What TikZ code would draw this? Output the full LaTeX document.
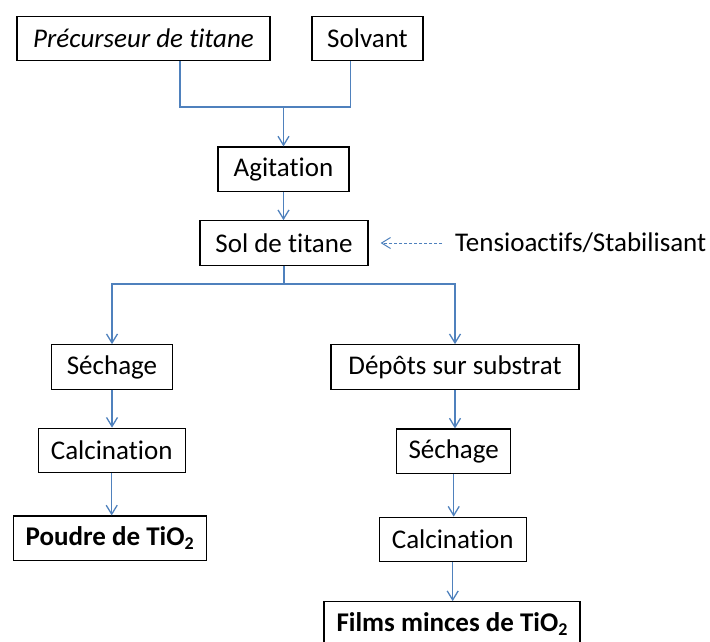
\documentclass[tikz,border=0pt]{standalone}
\usepackage{fontspec}
\setmainfont{Carlito}[RawFeature={-liga;-clig;-calt;-dlig}]
\usepackage{tikz}
\usetikzlibrary{arrows.meta}
\definecolor{flowblue}{RGB}{79,129,189}
\newcommand{\indice}[1]{\raisebox{-0.3ex}{\fontsize{18}{20}\selectfont #1}}

\begin{document}
\begin{tikzpicture}[x=1pt,y=-1pt]
	\tikzstyle{every node}=[font=\fontsize{27}{32}\selectfont]
	\tikzstyle{etape}=[draw=black, line width=1.2pt, fill=white, minimum height=44.5pt, inner xsep=2pt, inner ysep=0pt]
	\tikzstyle{trait}=[draw=flowblue, line width=1.3pt]
	\tikzstyle{fleche}=[trait, -{Straight Barb[length=9pt,width=11pt]}]
	
	\useasboundingbox (0,0) rectangle (710,641);
	
	% entrees
	\node[etape, minimum width=253pt, font=\fontsize{27}{32}\selectfont\itshape] (prec) at (143.5,38.5) {Précurseur de titane};
	\node[etape, minimum width=111pt] (solv) at (367.5,38.5) {Solvant};
	\node[etape, minimum width=131pt] (agit) at (283.5,169.3) {Agitation};
	\node[etape, minimum width=168pt] (sol) at (284,243) {Sol de titane};
	\node[anchor=west, inner sep=0pt] (tens) at (455,243) {Tensioactifs/Stabilisant};
	
	% voie poudre
	\node[etape, minimum width=121pt] (sech1) at (112,367) {Séchage};
	\node[etape, minimum width=147pt] (calc1) at (111.7,450.5) {Calcination};
	\node[etape, minimum width=193pt, font=\fontsize{27}{32}\selectfont\bfseries] (poudre) at (109.7,538.3) {Poudre de TiO\indice{2}};
	
	% voie films
	\node[etape, minimum width=248pt] (depot) at (455,367) {Dépôts sur substrat};
	\node[etape, minimum width=114pt] (sech2) at (453.7,451.3) {Séchage};
	\node[etape, minimum width=147pt] (calc2) at (452.7,539.5) {Calcination};
	\node[etape, minimum width=256pt, font=\fontsize{27}{32}\selectfont\bfseries] (films) at (452,624) {Films minces de TiO\indice{2}};
	
	\coordinate (merge) at (283.5,107);
	\coordinate (split) at (284,284);
	
	\draw[trait] ([xshift=36.5pt]prec.south) |- (merge) -| ([xshift=-17pt]solv.south);
	\draw[fleche] (merge) -- (agit.north);
	\draw[fleche] (agit.south) -- (agit.south |- sol.north);
	\draw[fleche, dash pattern=on 3pt off 2pt, line width=1pt] (tens.west) -- (tens.west -| sol.east) [shorten <=13pt, shorten >=12pt];
	
	\draw[trait] (sol.south) -- (split);
	\draw[fleche] (split) -| (sech1.north);
	\draw[fleche] (split) -| (depot.north);
	
	\draw[fleche] (sech1.south) -- (sech1.south |- calc1.north);
	\draw[fleche] (calc1.south) -- (calc1.south |- poudre.north);
	
	\draw[fleche] (depot.south) -- (depot.south |- sech2.north);
	\draw[fleche] (sech2.south) -- (sech2.south |- calc2.north);
	\draw[fleche] (calc2.south) -- (calc2.south |- films.north);
	
\end{tikzpicture}
\end{document}
